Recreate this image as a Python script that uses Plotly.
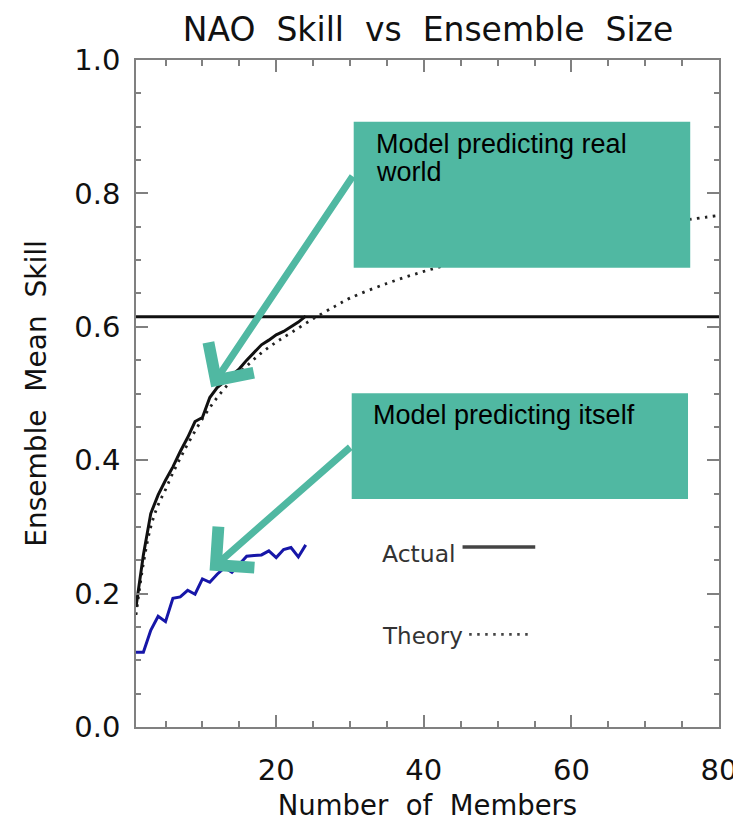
import plotly.graph_objects as go

# ---------------- data ----------------
members_actual = list(range(1, 25))
skill_actual = [0.180, 0.258, 0.320, 0.348, 0.370, 0.390, 0.413, 0.434, 0.458, 0.464,
                0.494, 0.509, 0.518, 0.527, 0.537, 0.550, 0.562, 0.573, 0.580, 0.588,
                0.593, 0.600, 0.607, 0.616]

members_theory = [1, 2, 3, 4, 5, 6, 7, 8, 10, 12, 14, 16, 18, 20, 22, 25, 28, 30,
                  35, 40, 45, 50, 55, 60, 65, 70, 76, 80]
skill_theory = [0.168, 0.245, 0.300, 0.333, 0.356, 0.381, 0.403, 0.424, 0.462, 0.494,
                0.520, 0.541, 0.561, 0.577, 0.591, 0.612, 0.631, 0.643, 0.665, 0.683,
                0.698, 0.712, 0.724, 0.734, 0.744, 0.752, 0.761, 0.767]

members_self = list(range(1, 25))
skill_self = [0.112, 0.112, 0.145, 0.166, 0.158, 0.193, 0.195, 0.205, 0.199, 0.222,
              0.217, 0.229, 0.239, 0.232, 0.244, 0.256, 0.257, 0.258, 0.264, 0.254,
              0.266, 0.269, 0.255, 0.273]

obs_members = [1, 80]
obs_skill = [0.615, 0.615]

x_tickvals = [20, 40, 60, 80]
y_tickvals = [0.0, 0.2, 0.4, 0.6, 0.8, 1.0]

title_text = "NAO\u00a0\u00a0Skill\u00a0\u00a0vs\u00a0\u00a0Ensemble\u00a0\u00a0Size"
x_title = "Number\u00a0\u00a0of\u00a0\u00a0Members"
y_title = "Ensemble\u00a0\u00a0Mean\u00a0\u00a0Skill"

TEAL = "#50B8A2"
AXC = "#808080"
FONT = "DejaVu Sans"
ARIAL = "Liberation Sans, Arial, sans-serif"
DOT = "2.5px,5.5px"

fig = go.Figure()

fig.add_trace(go.Scatter(x=obs_members, y=obs_skill, mode="lines",
                         line=dict(color="#111111", width=3), showlegend=False))
fig.add_trace(go.Scatter(x=members_theory, y=skill_theory, mode="lines",
                         line=dict(color="#222222", width=2.8, dash=DOT, shape="spline"),
                         showlegend=False))
fig.add_trace(go.Scatter(x=members_actual, y=skill_actual, mode="lines",
                         line=dict(color="#111111", width=3), showlegend=False))
fig.add_trace(go.Scatter(x=members_self, y=skill_self, mode="lines",
                         line=dict(color="#1616A8", width=3), showlegend=False))

# annotation boxes
fig.add_shape(type="rect", xref="x", yref="y", x0=30.5, x1=76.1, y0=0.6887, y1=0.9075,
              fillcolor=TEAL, line=dict(width=0), layer="above")
fig.add_shape(type="rect", xref="x", yref="y", x0=30.23, x1=75.8, y0=0.342, y1=0.5003,
              fillcolor=TEAL, line=dict(width=0), layer="above")

# legend samples
fig.add_shape(type="line", xref="x", yref="y", x0=45.25, x1=55.1, y0=0.27, y1=0.27,
              line=dict(color="#444444", width=3.5), layer="above")
fig.add_shape(type="line", xref="x", yref="y", x0=46.15, x1=54.5, y0=0.139, y1=0.139,
              line=dict(color="#444444", width=2.8, dash=DOT), layer="above")

annotations = [
    dict(x=33.3, y=0.8746, xref="x", yref="y", text="Model predicting real",
         showarrow=False, xanchor="left", yanchor="middle",
         font=dict(family=ARIAL, size=27, color="#000000")),
    dict(x=33.3, y=0.8316, xref="x", yref="y", text="world",
         showarrow=False, xanchor="left", yanchor="middle",
         font=dict(family=ARIAL, size=27, color="#000000")),
    dict(x=32.84, y=0.4674, xref="x", yref="y", text="Model predicting itself",
         showarrow=False, xanchor="left", yanchor="middle",
         font=dict(family=ARIAL, size=27, color="#000000")),
    dict(x=34.0, y=0.26, xref="x", yref="y", text="Actual",
         showarrow=False, xanchor="left", yanchor="middle",
         font=dict(family=FONT, size=23.5, color="#333333")),
    dict(x=34.0, y=0.136, xref="x", yref="y", text="Theory",
         showarrow=False, xanchor="left", yanchor="middle",
         font=dict(family=FONT, size=23, color="#333333")),
    # arrows
    dict(x=11.19, y=0.5095, xref="x", yref="y", ax=30.5, ay=0.828, axref="x", ayref="y",
         text="", showarrow=True, arrowhead=4, arrowwidth=7, arrowsize=1.5,
         arrowcolor=TEAL, standoff=0),
    dict(x=10.97, y=0.2345, xref="x", yref="y", ax=30.23, ay=0.4214, axref="x", ayref="y",
         text="", showarrow=True, arrowhead=4, arrowwidth=7, arrowsize=1.5,
         arrowcolor=TEAL, standoff=0),
]

axis_common = dict(
    showgrid=False, zeroline=False, showline=True, linecolor=AXC, linewidth=1.5,
    mirror="ticks", ticks="inside", tickcolor=AXC, tickwidth=1.5, ticklen=12,
    tickfont=dict(family=FONT, size=29, color="#111111"),
)

fig.update_layout(
    width=741, height=820,
    margin=dict(l=128, r=29, t=52, b=87),
    paper_bgcolor="white", plot_bgcolor="white",
    title=dict(text=title_text, x=420 / 741, xanchor="center",
               y=1 - 21.5 / 820, yanchor="middle",
               font=dict(family=FONT, size=33, color="#111111")),
    xaxis=dict(range=[1, 80], tickvals=x_tickvals, ticktext=[str(v) for v in x_tickvals],
               minor=dict(dtick=5, tick0=0, ticks="inside", ticklen=6, tickcolor=AXC, tickwidth=1.5),
               ticklabelstandoff=16,
               title=dict(text=x_title, standoff=10,
                          font=dict(family=FONT, size=27.5, color="#111111")),
               **axis_common),
    yaxis=dict(range=[0, 1], tickvals=y_tickvals, tickformat=".1f",
               minor=dict(dtick=0.05, tick0=0, ticks="inside", ticklen=5, tickcolor=AXC, tickwidth=1.5),
               ticklabelstandoff=8,
               title=dict(text=y_title, standoff=20,
                          font=dict(family=FONT, size=28, color="#111111")),
               **axis_common),
    annotations=annotations,
)

fig.write_html("out.html")
